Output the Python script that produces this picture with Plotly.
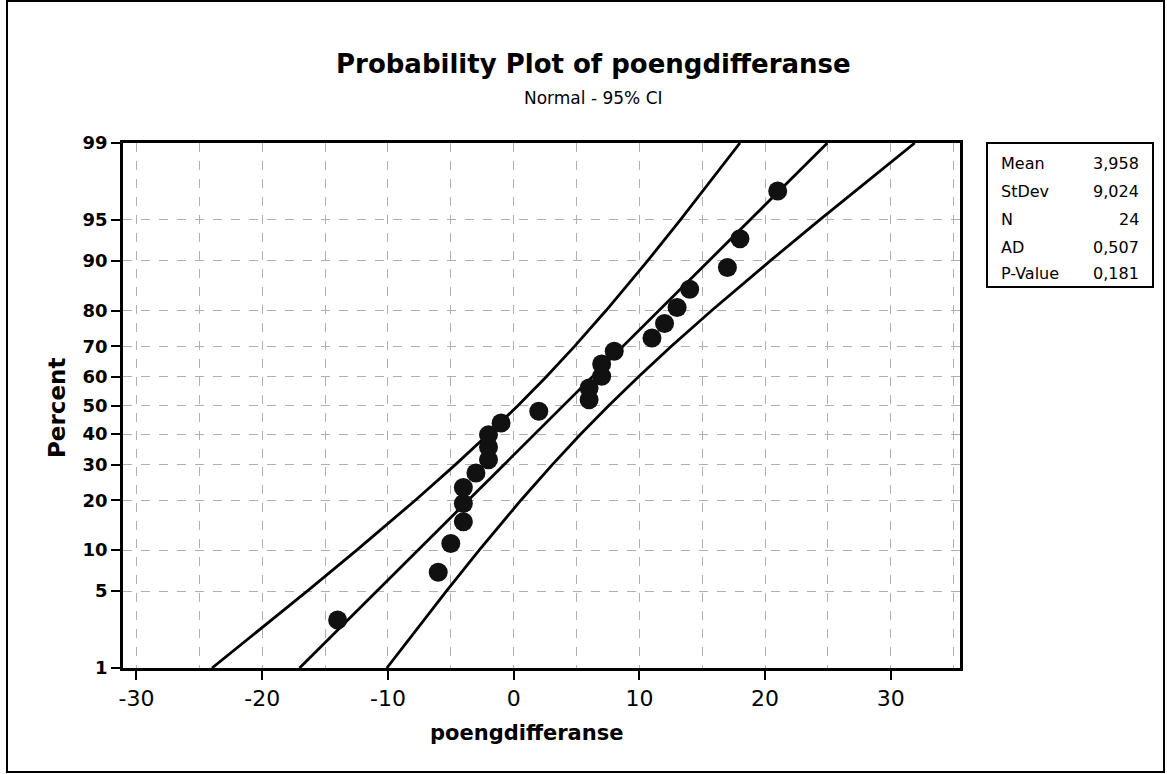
import plotly.graph_objects as go
from statistics import NormalDist

# ---------------- data ----------------
values = [-14, -6, -5, -4, -4, -4, -3, -2, -2, -2, -1, 2,
          6, 6, 7, 7, 8, 11, 12, 13, 14, 17, 18, 21]
percents = [2.87, 6.97, 11.07, 15.16, 19.26, 23.36, 27.46, 31.56, 35.66, 39.75, 43.85, 47.95,
            52.05, 56.15, 60.25, 64.34, 68.44, 72.54, 76.64, 80.74, 84.84, 88.93, 93.03, 97.13]

ci_percent = [1, 5, 10, 20, 30, 40, 50, 60, 70, 80, 90, 95, 99]
ci_lower = [-23.99, -16.42, -12.48, -7.84, -4.63, -2.00, 0.35, 2.58, 4.84, 7.35, 10.65, 13.26, 18.00]
ci_upper = [-10.09, -5.35, -2.74, 0.56, 3.08, 5.34, 7.57, 9.91, 12.54, 15.75, 20.40, 24.34, 31.90]

fit_percent = [1, 99]
fit_x = [-17.03, 24.95]

y_ticks = [1, 5, 10, 20, 30, 40, 50, 60, 70, 80, 90, 95, 99]
x_ticks = [-30, -20, -10, 0, 10, 20, 30]

stat_labels = ["Mean", "StDev", "N", "AD", "P-Value"]
stat_values = ["3,958", "9,024", "24", "0,507", "0,181"]

title = "Probability Plot of poengdifferanse"
subtitle = "Normal - 95% CI"
x_title = "poengdifferanse"
y_title = "Percent"

# ---------------- scale helper (normal probability axis) ----------------
_nd = NormalDist()


def probit(p):
    return _nd.inv_cdf(p / 100.0)


FONT = "DejaVu Sans"
L, R, T, B = 123, 207, 143, 106
W, H = 1167, 774
PW, PH = W - L - R, H - T - B


def px_x(px):
    return (px - L) / PW


def px_y(py):
    return (H - B - py) / PH


fig = go.Figure()

line_style = dict(color="black", width=2.8)
fig.add_trace(go.Scatter(x=ci_lower, y=[probit(p) for p in ci_percent], mode="lines",
                         line=line_style, hoverinfo="skip", showlegend=False))
fig.add_trace(go.Scatter(x=ci_upper, y=[probit(p) for p in ci_percent], mode="lines",
                         line=line_style, hoverinfo="skip", showlegend=False))
fig.add_trace(go.Scatter(x=fit_x, y=[probit(p) for p in fit_percent], mode="lines",
                         line=line_style, hoverinfo="skip", showlegend=False))
fig.add_trace(go.Scatter(x=values, y=[probit(p) for p in percents], mode="markers",
                         marker=dict(color="#111111", size=19, line=dict(width=0)),
                         showlegend=False))

grid_color = "#b0b0b0"
fig.update_xaxes(
    range=[-31.07, 35.5], tickvals=x_ticks, ticktext=[str(v) for v in x_ticks],
    showgrid=True, gridcolor=grid_color, griddash="dash", gridwidth=1,
    minor=dict(tickvals=[-25, -15, -5, 5, 15, 25, 35], showgrid=True, gridcolor=grid_color,
               griddash="dash", gridwidth=1, ticks=""),
    showline=True, linecolor="black", linewidth=2.5, mirror=True,
    ticks="outside", ticklen=9, tickwidth=2, tickcolor="black",
    tickfont=dict(family=FONT, size=22, color="black"), zeroline=False,
)
fig.update_yaxes(
    range=[probit(1), probit(99)], tickvals=[probit(p) for p in y_ticks],
    ticktext=["<b>%d</b>" % p for p in y_ticks],
    showgrid=True, gridcolor=grid_color, griddash="dash", gridwidth=1,
    showline=True, linecolor="black", linewidth=2.5, mirror=True,
    ticks="outside", ticklen=9, tickwidth=2, tickcolor="black",
    tickfont=dict(family=FONT, size=18, color="black"), zeroline=False,
)

ann = []
ann.append(dict(text="<b>%s</b>" % title, x=px_x(593), y=px_y(64), xref="paper", yref="paper",
                showarrow=False, font=dict(family=FONT, size=26, color="black"),
                xanchor="center", yanchor="middle"))
ann.append(dict(text=subtitle, x=px_x(593), y=px_y(98), xref="paper", yref="paper",
                showarrow=False, font=dict(family=FONT, size=17, color="black"),
                xanchor="center", yanchor="middle"))
ann.append(dict(text="<b>%s</b>" % x_title, x=px_x(526), y=px_y(733), xref="paper", yref="paper",
                showarrow=False, font=dict(family=FONT, size=21, color="black"),
                xanchor="center", yanchor="middle"))
ann.append(dict(text="<b>%s</b>" % y_title, x=px_x(57), y=px_y(408), xref="paper", yref="paper",
                showarrow=False, textangle=-90, font=dict(family=FONT, size=23, color="black"),
                xanchor="center", yanchor="middle"))

row_y = [163, 191, 219, 247, 273]
for lab, val, ry in zip(stat_labels, stat_values, row_y):
    ann.append(dict(text=lab, x=px_x(999), y=px_y(ry), xref="paper", yref="paper",
                    showarrow=False, font=dict(family=FONT, size=16, color="black"),
                    xanchor="left", yanchor="middle"))
    ann.append(dict(text=val, x=px_x(1141), y=px_y(ry), xref="paper", yref="paper",
                    showarrow=False, font=dict(family=FONT, size=16, color="black"),
                    xanchor="right", yanchor="middle"))

shapes = [
    dict(type="rect", xref="paper", yref="paper", x0=px_x(987), x1=px_x(1153),
         y0=px_y(287), y1=px_y(143), line=dict(color="black", width=2)),
    dict(type="rect", xref="paper", yref="paper", x0=px_x(7), x1=px_x(1164),
         y0=px_y(772), y1=px_y(1), line=dict(color="black", width=2)),
]

fig.update_layout(
    width=W, height=H, margin=dict(l=L, r=R, t=T, b=B, autoexpand=False),
    paper_bgcolor="white", plot_bgcolor="white",
    annotations=ann, shapes=shapes, showlegend=False,
    font=dict(family=FONT, color="black"),
)

fig.write_html("out.html", config={"displayModeBar": False},
               post_script="document.body.style.margin='0';document.body.style.overflow='hidden';")
